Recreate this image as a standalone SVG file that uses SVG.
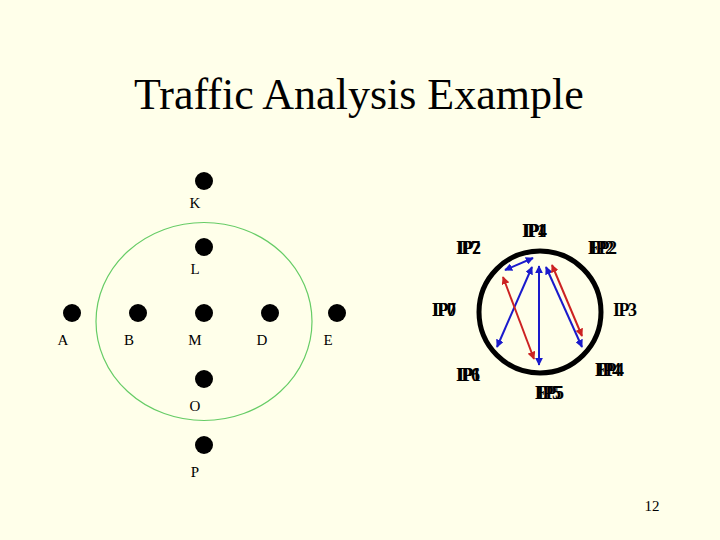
<svg xmlns="http://www.w3.org/2000/svg" width="720" height="540" viewBox="0 0 720 540">
<defs>
<style>
.title{font-family:"Liberation Serif","Times New Roman",serif;font-size:44px;fill:#000}
.lbl{font-family:"Liberation Serif","Times New Roman",serif;font-size:15px;fill:#000}
.ip{font-family:"Liberation Serif","Times New Roman",serif;font-size:18px;font-weight:bold;fill:#000;letter-spacing:-1.5px}
.dot{fill:#000}
.blue{stroke:#1a1acc;stroke-width:2;fill:none;marker-start:url(#bs);marker-end:url(#be)}
.red{stroke:#cc2222;stroke-width:2;fill:none;marker-start:url(#rs);marker-end:url(#re)}
</style>
<marker id="be" viewBox="0 0 10 10" refX="9" refY="5" markerWidth="4" markerHeight="4" orient="auto"><path d="M0,0 L10,5 L0,10 z" fill="#1a1acc"/></marker>
<marker id="bs" viewBox="0 0 10 10" refX="1" refY="5" markerWidth="4" markerHeight="4" orient="auto"><path d="M10,0 L0,5 L10,10 z" fill="#1a1acc"/></marker>
<marker id="re" viewBox="0 0 10 10" refX="9" refY="5" markerWidth="4" markerHeight="4" orient="auto"><path d="M0,0 L10,5 L0,10 z" fill="#cc2222"/></marker>
<marker id="rs" viewBox="0 0 10 10" refX="1" refY="5" markerWidth="4" markerHeight="4" orient="auto"><path d="M10,0 L0,5 L10,10 z" fill="#cc2222"/></marker>
</defs>
<rect width="720" height="540" fill="#ffffea"/>
<text class="title" x="134" y="109">Traffic Analysis Example</text>

<ellipse cx="204" cy="321.5" rx="108" ry="99" fill="none" stroke="#66cc66" stroke-width="1.2"/>

<g id="K"><circle class="dot" cx="204" cy="181" r="9"/><text class="lbl" x="195" y="208" text-anchor="middle">K</text></g>
<g id="L"><circle class="dot" cx="204" cy="247" r="9"/><text class="lbl" x="195" y="274" text-anchor="middle">L</text></g>
<g id="A"><circle class="dot" cx="72" cy="313" r="9"/><text class="lbl" x="63" y="345" text-anchor="middle">A</text></g>
<g id="B"><circle class="dot" cx="138" cy="313" r="9"/><text class="lbl" x="129" y="345" text-anchor="middle">B</text></g>
<g id="M"><circle class="dot" cx="204" cy="313" r="9"/><text class="lbl" x="195" y="345" text-anchor="middle">M</text></g>
<g id="D"><circle class="dot" cx="270" cy="313" r="9"/><text class="lbl" x="262" y="345" text-anchor="middle">D</text></g>
<g id="E"><circle class="dot" cx="337" cy="313" r="9"/><text class="lbl" x="328" y="345" text-anchor="middle">E</text></g>
<g id="O"><circle class="dot" cx="204" cy="379" r="9"/><text class="lbl" x="195" y="411" text-anchor="middle">O</text></g>
<g id="P"><circle class="dot" cx="204" cy="445" r="9"/><text class="lbl" x="195" y="477" text-anchor="middle">P</text></g>

<g id="ring"><circle cx="540" cy="312" r="61" fill="none" stroke="#000" stroke-width="5"/></g>

<g id="ip-top"><text class="ip" x="522" y="237">IP1</text><text class="ip" x="523" y="237">IP4</text></g>
<g id="ip-topleft"><text class="ip" x="456" y="254">IP7</text><text class="ip" x="457" y="254">IP2</text></g>
<g id="ip-topright"><text class="ip" x="588" y="254">EP2</text><text class="ip" x="590" y="254">IP2</text></g>
<g id="ip-left"><text class="ip" x="432" y="316">IP0</text><text class="ip" x="432" y="316">IP7</text></g>
<g id="ip-right"><text class="ip" x="613" y="316">IP3</text></g>
<g id="ip-botleft"><text class="ip" x="456" y="381">IP6</text><text class="ip" x="457" y="381">IP1</text></g>
<g id="ip-botright"><text class="ip" x="595" y="376">EP4</text><text class="ip" x="597" y="376">IP4</text></g>
<g id="ip-bottom"><text class="ip" x="535" y="399">EP5</text><text class="ip" x="537" y="399">IP5</text></g>

<g id="connectors">
<line class="blue" x1="505" y1="270" x2="533" y2="258"/>
<line class="blue" x1="532" y1="267" x2="497" y2="347"/>
<line class="red" x1="503" y1="277" x2="534" y2="359"/>
<line class="blue" x1="539" y1="266" x2="539" y2="365"/>
<line class="blue" x1="546" y1="267" x2="582" y2="347"/>
<line class="red" x1="552" y1="265" x2="582" y2="336"/>
</g>

<text class="lbl" x="652" y="511" text-anchor="middle" font-size="14">12</text>
</svg>
